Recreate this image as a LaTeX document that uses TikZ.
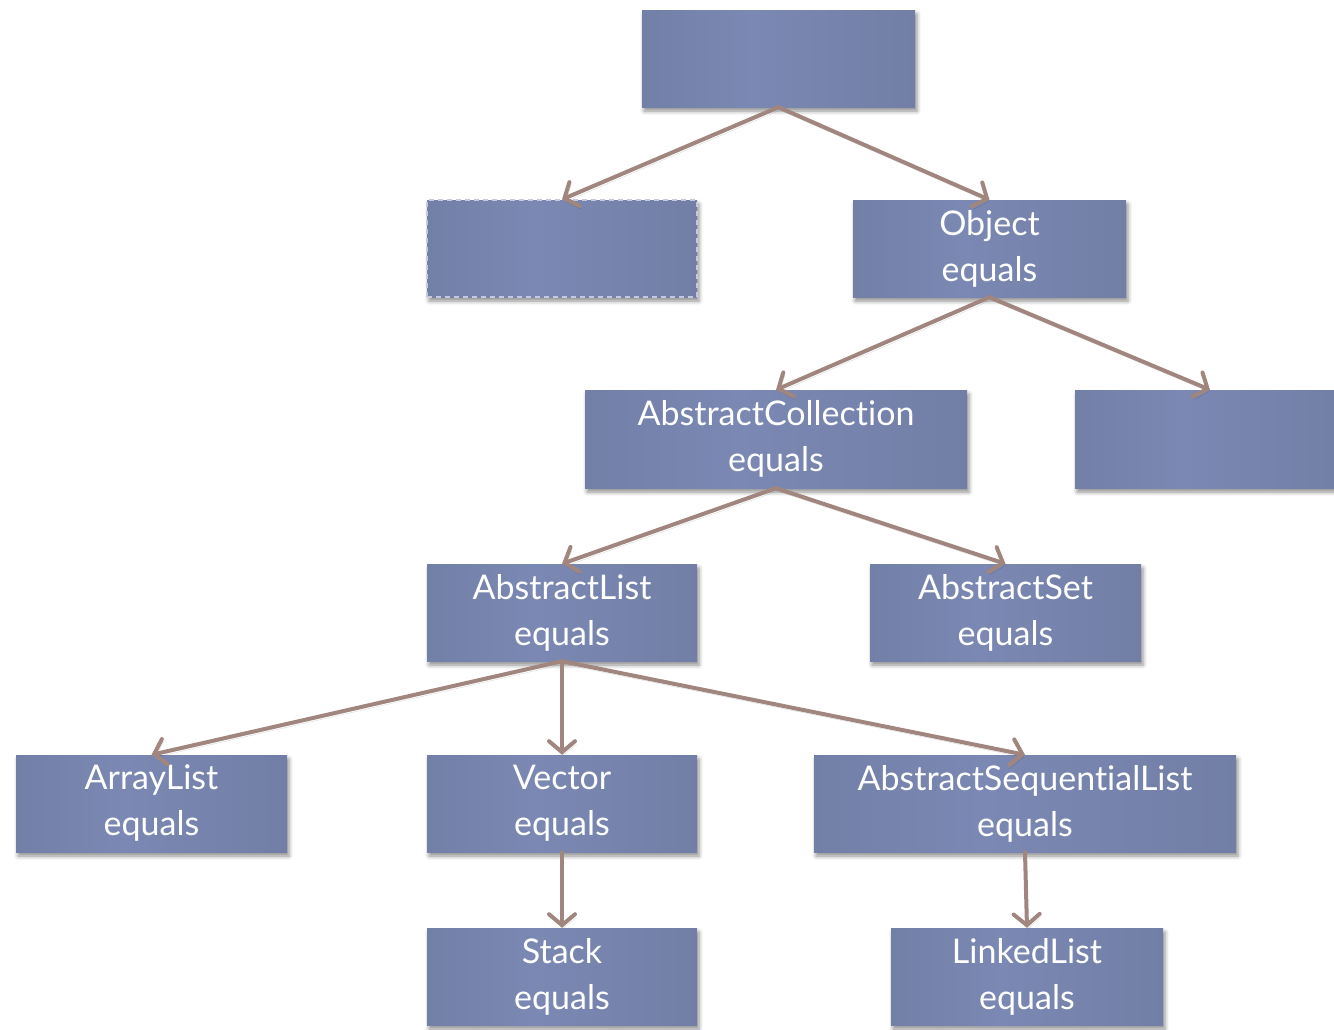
\documentclass[tikz,border=0pt]{standalone}
\usepackage{fontspec}
\setmainfont[Ligatures={NoCommon}]{Lato}
\usetikzlibrary{arrows.meta,shadows.blur}
\definecolor{boxdark}{RGB}{103,116,152}
\definecolor{boxlight}{RGB}{123,136,179}
\definecolor{boxright}{RGB}{106,118,154}
\definecolor{arrowc}{RGB}{160,134,126}
% soft left-to-right sheen across each class box
\pgfdeclarehorizontalshading{boxsheen}{100bp}{color(0bp)=(boxdark); color(45bp)=(boxlight); color(100bp)=(boxright)}

\begin{document}
\begin{tikzpicture}[x=1pt,y=-1pt,
  cls/.style={rectangle, minimum width=#1, minimum height=97pt, inner sep=0pt,
    shading=boxsheen,
    blur shadow={shadow xshift=2pt, shadow yshift=-4pt, shadow blur radius=4pt, shadow opacity=45},
    text=white, align=center, font=\fontsize{34}{46}\selectfont},
  dashedbox/.style={draw=white!55!boxlight, dash pattern=on 5pt off 4pt, line width=1.2pt},
  link/.style={draw=arrowc, line width=4pt, line cap=round,
    -{Straight Barb[length=11pt, width=26pt, line cap=round]},
    preaction={draw=black, opacity=0.15, transform canvas={xshift=1.5pt, yshift=-3pt}}}]
  \useasboundingbox (0,0) rectangle (1334,1029);
  \clip (0,0) rectangle (1334,1029);

  % class boxes
  \node[cls=273pt] (top) at (778.5,58.5) {};
  \node[cls=270pt, dashedbox] (iface) at (562,248.5) {};
  \node[cls=273pt] (obj) at (989.5,248.5) {Object\\equals};
  \node[cls=382pt, minimum height=98pt] (acoll) at (776,439) {AbstractCollection\\equals};
  \node[cls=270pt, minimum height=98pt] (other) at (1210,439) {};
  \node[cls=270pt] (alist) at (562,612.5) {AbstractList\\equals};
  \node[cls=271pt] (aset) at (1005.5,612.5) {AbstractSet\\equals};
  \node[cls=271pt] (arrl) at (151.5,803.5) {ArrayList\\equals};
  \node[cls=270pt] (vec) at (562,803.5) {Vector\\equals};
  \node[cls=422pt] (aseq) at (1025,803.5) {AbstractSequentialList\\equals};
  \node[cls=270pt] (stack) at (562,976.5) {Stack\\equals};
  \node[cls=272pt] (llist) at (1027,976.5) {LinkedList\\equals};

  % inheritance links
  \draw[link] (top.south) -- (iface.north);
  \draw[link] (top.south) -- (obj.north);
  \draw[link] (obj.south) -- (acoll.north);
  \draw[link] (obj.south) -- (other.north);
  \draw[link] (acoll.south) -- (alist.north);
  \draw[link] (acoll.south) -- (aset.north);
  \draw[link] (alist.south) -- (arrl.north);
  \draw[link] (alist.south) -- (vec.north);
  \draw[link] (alist.south) -- (aseq.north);
  \draw[link] (vec.south) -- (stack.north);
  \draw[link] (aseq.south) -- (llist.north);
\end{tikzpicture}
\end{document}
